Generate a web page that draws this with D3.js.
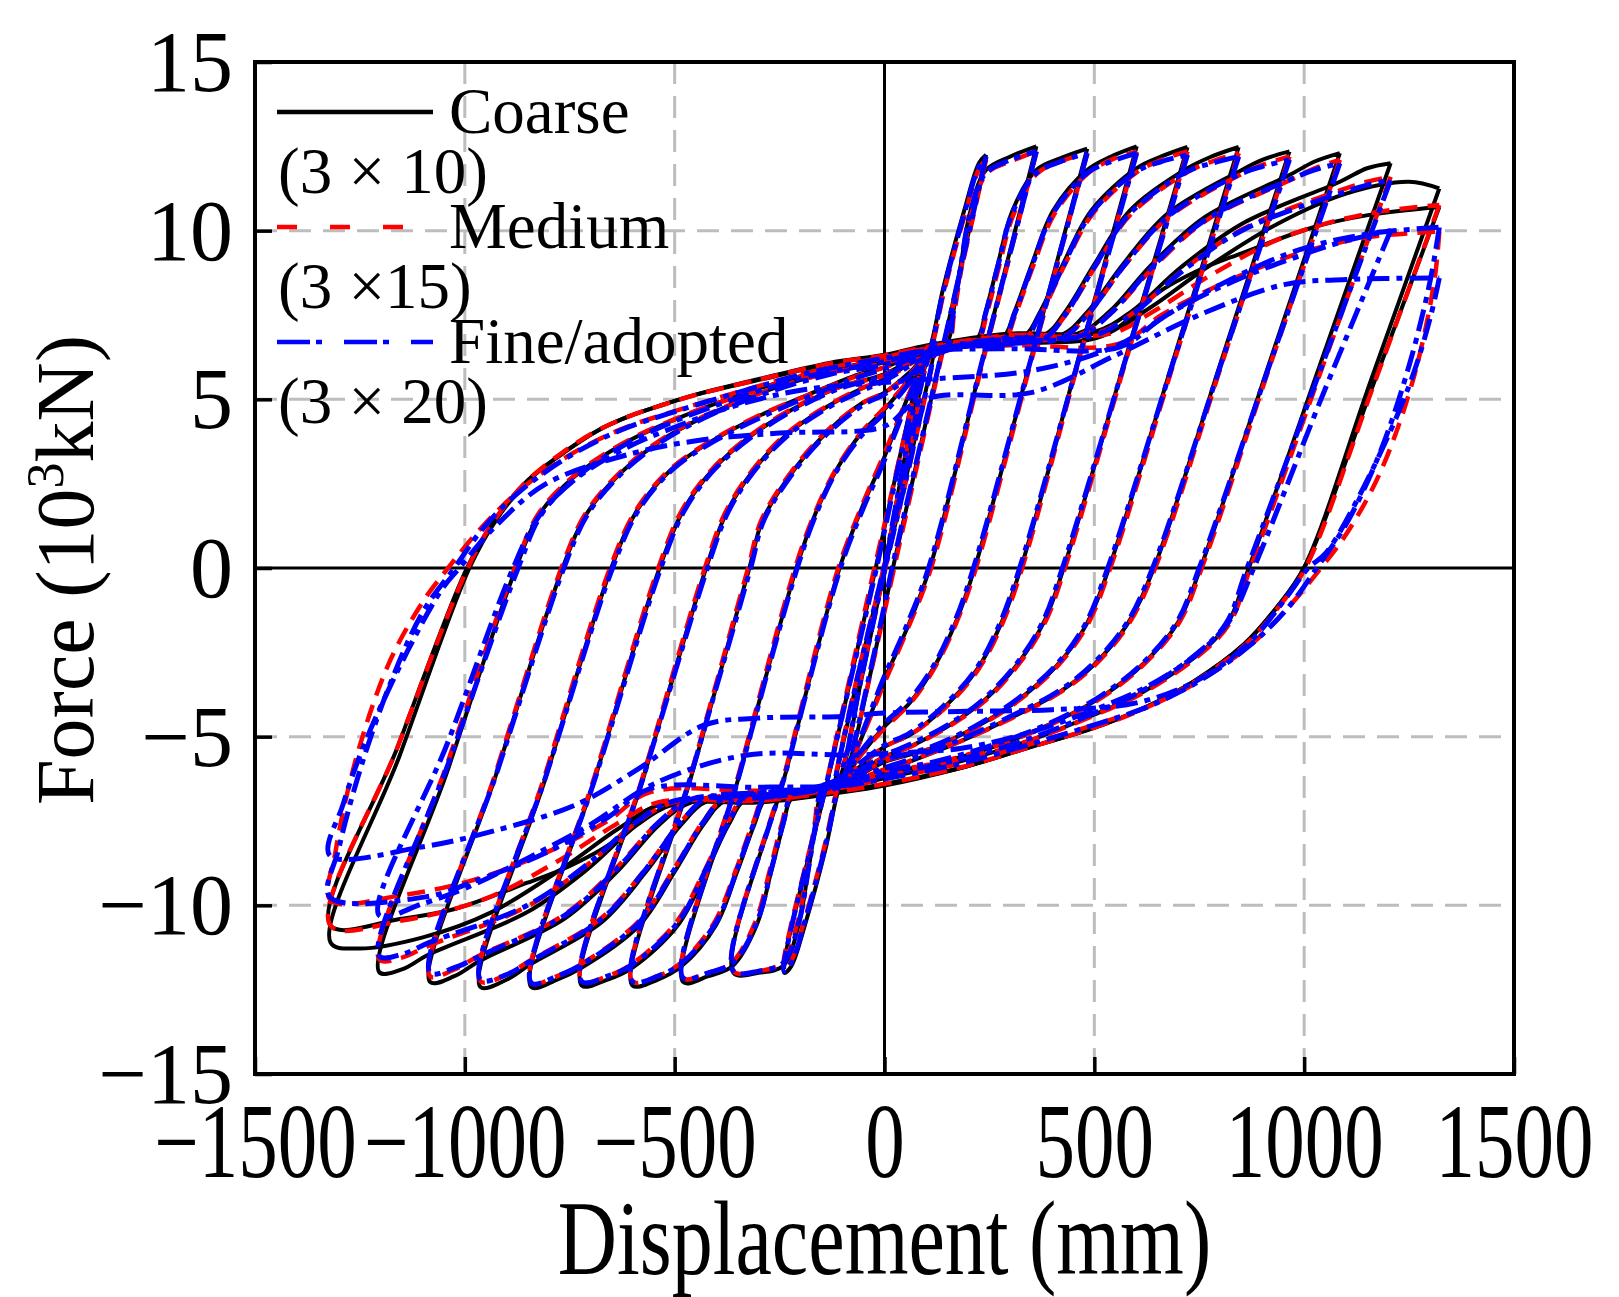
<!DOCTYPE html>
<html>
<head>
<meta charset="utf-8">
<script src="https://cdn.jsdelivr.net/npm/d3@7"></script>
<style>
body{margin:0;background:#fff}
text{font-family:"Liberation Serif","Times New Roman",serif;fill:#000}
</style>
</head>
<body>
<script>
// axis ticks
let xTicks = [-1500,-1000,-500,0,500,1000,1500]
let yTicks = [-15,-10,-5,0,5,10,15]
let xGrid = [-1000,-500,500,1000]
let yGrid = [-10,-5,5,10]

// legend
let seriesNames = ["Coarse","Medium","Fine/adopted"]
let seriesSizes = ["(3 \u00d7 10)","(3 \u00d715)","(3 \u00d7 20)"]
let seriesColors = ["#000000","#ff0000","#0000ff"]

// loops: [displacement mm, force 10^3 kN]
let coarseLoops = [
 [[0,0],[50,3.4],[90,5.9],[120,6.7],[70,3.7],[0,-0.1],[-60,-3.6],[-95,-5.8],[-120,-6.6],[-70,-3.6],[0,0.1],[60,3.5],[95,5.9],[120,6.7]],
 [[242,12.25],[131,6.1],[20,0],[0,-1.2],[-40,-3.5],[-75,-5.4],[-95,-6.2],[-110,-6.6],[-140,-8.3],[-190,-10.6],[-222,-11.8],[-239,-12.0],[-130,-6.0],[-21,0],[0,1.2],[40,3.5],[75,5.4],[95,6.2],[110,6.6],[140,8.3],[190,10.6],[225,12.0],[242,12.25]],
 [[362,12.5],[235,6.25],[108,0],[50,-1.9],[0,-3.3],[-60,-5.2],[-100,-6.3],[-150,-6.7],[-164,-7.6],[-182,-9.0],[-205,-10.6],[-242,-11.8],[-300,-12.0],[-360,-12.0],[-234,-6.0],[-107,0],[-50,1.9],[0,3.3],[60,5.2],[100,6.3],[150,6.7],[164,7.6],[182,9.0],[205,10.6],[242,11.8],[300,12.2],[362,12.5]],
 [[483,12.43],[349,6.2],[215,0],[170,-1.6],[120,-2.9],[60,-4.0],[0,-4.7],[-60,-5.6],[-100,-6.3],[-160,-6.65],[-220,-6.8],[-241,-7.6],[-270,-9.0],[-305,-10.6],[-362,-11.8],[-420,-12.1],[-480,-12.27],[-345,-6.1],[-210,0],[-165,1.6],[-115,2.9],[-55,4.0],[0,4.7],[60,5.6],[100,6.3],[160,6.65],[220,6.8],[241,7.6],[270,9.0],[305,10.6],[362,11.8],[420,12.15],[483,12.43]],
 [[601,12.5],[463,6.25],[325,0],[276,-1.7],[221,-3.0],[141,-4.15],[62,-4.94],[0,-5.3],[-60,-5.9],[-100,-6.3],[-180,-6.65],[-280,-6.8],[-310,-7.6],[-351,-9.0],[-402,-10.6],[-483,-11.8],[-540,-12.2],[-601,-12.37],[-461,-6.2],[-322,0],[-290,1.43],[-210,3.0],[-131,4.1],[-52,4.9],[0,5.2],[60,5.8],[100,6.3],[180,6.65],[280,6.8],[310,7.6],[351,9.0],[402,10.6],[483,11.8],[540,12.2],[601,12.5]],
 [[722,12.48],[575,6.24],[427,0],[380,-1.6],[320,-2.8],[240,-3.9],[150,-4.7],[60,-5.3],[0,-5.6],[-100,-6.35],[-200,-6.7],[-330,-6.85],[-371,-7.6],[-425,-9.0],[-493,-10.6],[-601,-11.85],[-660,-12.2],[-722,-12.37],[-574,-6.2],[-425,0],[-378,1.6],[-318,2.8],[-238,3.9],[-148,4.7],[-58,5.3],[0,5.6],[100,6.35],[200,6.7],[330,6.85],[371,7.6],[425,9.0],[493,10.6],[601,11.85],[660,12.2],[722,12.48]],
 [[844,12.48],[690,6.24],[535,0],[480,-1.7],[410,-2.9],[320,-3.9],[220,-4.7],[110,-5.35],[0,-5.75],[-100,-6.4],[-230,-6.75],[-380,-6.9],[-431,-7.6],[-500,-9.0],[-585,-10.6],[-722,-11.85],[-780,-12.2],[-842,-12.42],[-689,-6.2],[-536,0],[-480,1.7],[-410,2.9],[-320,3.9],[-220,4.7],[-110,5.35],[0,5.75],[100,6.4],[230,6.75],[380,6.9],[431,7.6],[500,9.0],[585,10.6],[722,11.85],[780,12.2],[844,12.48]],
 [[965,12.35],[804,6.2],[642,0],[578,-1.68],[499,-2.87],[419,-3.66],[300,-4.45],[181,-5.14],[62,-5.73],[0,-6.0],[-100,-6.45],[-250,-6.8],[-420,-6.9],[-484,-7.6],[-568,-9.0],[-674,-10.5],[-844,-11.75],[-900,-12.2],[-963,-12.42],[-807,-6.2],[-651,0],[-590,1.7],[-510,2.9],[-420,3.7],[-300,4.5],[-180,5.15],[-60,5.75],[0,5.95],[100,6.45],[250,6.8],[420,6.9],[484,7.6],[568,9.0],[674,10.5],[844,11.75],[900,12.1],[965,12.35]],
 [[1085,12.3],[919,6.15],[753,0],[700,-1.6],[620,-2.8],[520,-3.8],[400,-4.6],[260,-5.3],[120,-5.8],[0,-6.1],[-100,-6.5],[-260,-6.85],[-460,-6.95],[-536,-7.6],[-637,-9.0],[-763,-10.4],[-965,-11.65],[-1025,-12.1],[-1083,-12.27],[-925,-6.1],[-767,0],[-710,1.6],[-630,2.8],[-530,3.8],[-410,4.6],[-270,5.3],[-130,5.8],[0,6.1],[100,6.5],[260,6.85],[460,6.95],[536,7.6],[637,9.0],[763,10.4],[965,11.65],[1025,12.05],[1085,12.3]],
 [[1206,12.0],[1037,6.0],[868,0],[816,-1.68],[737,-2.67],[618,-3.66],[499,-4.35],[340,-5.14],[181,-5.73],[0,-6.23],[-100,-6.55],[-280,-6.9],[-500,-7.0],[-588,-7.6],[-705,-8.9],[-851,-10.2],[-1085,-11.45],[-1150,-11.9],[-1204,-11.98],[-1041,-6.0],[-878,0],[-822,1.6],[-740,2.7],[-620,3.7],[-500,4.4],[-340,5.15],[-180,5.75],[0,6.2],[100,6.55],[280,6.9],[500,7.0],[588,7.6],[705,8.9],[851,10.2],[1085,11.45],[1150,11.85],[1206,12.0]],
 [[1322,11.25],[1160,5.6],[999,0],[933,-1.19],[856,-2.27],[737,-3.36],[618,-4.15],[499,-4.74],[340,-5.34],[181,-5.93],[0,-6.45],[-100,-6.65],[-300,-6.95],[-530,-7.0],[-631,-7.7],[-767,-8.9],[-936,-10.2],[-1100,-10.95],[-1254,-11.28],[-1320,-11.1],[-1155,-5.55],[-989,0],[-925,1.43],[-846,2.62],[-766,3.41],[-687,4.05],[-608,4.5],[-528,4.84],[-449,5.14],[-290,5.63],[-131,6.08],[0,6.32],[100,6.6],[300,6.95],[530,7.0],[631,7.7],[767,8.9],[936,10.2],[1100,11.1],[1250,11.45],[1322,11.25]],
 [[1322,10.7],[1162,5.35],[1000,0],[933,-1.2],[856,-2.27],[737,-3.36],[618,-4.15],[499,-4.74],[340,-5.34],[181,-5.93],[0,-6.4],[-100,-6.6],[-300,-6.85],[-550,-7.07],[-650,-8.15],[-751,-8.84],[-851,-9.33],[-1022,-10.1],[-1152,-10.4],[-1320,-10.6],[-1160,-5.3],[-995,0],[-930,1.4],[-850,2.6],[-766,3.4],[-687,4.05],[-608,4.5],[-528,4.84],[-449,5.14],[-290,5.6],[-131,6.05],[0,6.3],[88,6.48],[300,6.65],[490,6.77],[550,7.07],[650,8.15],[751,8.84],[851,9.33],[1022,10.1],[1152,10.46],[1322,10.7]]
]

let mediumLoops = [
 [[0,0],[50,3.3],[90,5.8],[120,6.6],[70,3.6],[0,-0.1],[-60,-3.5],[-95,-5.7],[-120,-6.5],[-70,-3.5],[0,0.1],[60,3.4],[95,5.8],[120,6.6]],
 [[242,12.1],[132,6.05],[23,0],[0,-1.3],[-40,-3.5],[-75,-5.35],[-95,-6.15],[-112,-6.55],[-142,-8.2],[-192,-10.5],[-224,-11.7],[-240,-11.9],[-131,-5.95],[-24,0],[0,1.3],[40,3.5],[75,5.35],[95,6.15],[112,6.55],[142,8.2],[192,10.5],[226,11.85],[242,12.1]],
 [[362,12.35],[236,6.2],[111,0],[52,-1.9],[0,-3.4],[-60,-5.2],[-100,-6.25],[-152,-6.65],[-166,-7.55],[-184,-8.95],[-207,-10.5],[-244,-11.7],[-300,-11.95],[-360,-11.95],[-235,-5.95],[-110,0],[-52,1.9],[0,3.4],[60,5.2],[100,6.25],[152,6.65],[166,7.55],[184,8.95],[207,10.5],[244,11.7],[300,12.05],[362,12.35]],
 [[483,12.3],[350,6.15],[218,0],[172,-1.6],[122,-2.9],[62,-4.0],[0,-4.75],[-60,-5.6],[-100,-6.25],[-162,-6.6],[-222,-6.75],[-244,-7.55],[-273,-8.95],[-308,-10.5],[-364,-11.7],[-420,-12.0],[-480,-12.15],[-346,-6.05],[-213,0],[-167,1.6],[-117,2.9],[-57,4.0],[0,4.75],[60,5.6],[100,6.25],[162,6.6],[222,6.75],[244,7.55],[273,8.95],[308,10.5],[364,11.7],[420,12.05],[483,12.3]],
 [[601,12.35],[464,6.2],[328,0],[279,-1.7],[224,-3.0],[144,-4.15],[64,-4.92],[0,-5.3],[-60,-5.85],[-100,-6.25],[-182,-6.6],[-283,-6.75],[-313,-7.55],[-354,-8.95],[-405,-10.5],[-485,-11.7],[-540,-12.1],[-601,-12.25],[-462,-6.15],[-325,0],[-293,1.43],[-213,3.0],[-134,4.1],[-54,4.88],[0,5.2],[60,5.75],[100,6.25],[182,6.6],[283,6.75],[313,7.55],[354,8.95],[405,10.5],[485,11.7],[540,12.1],[601,12.35]],
 [[722,12.35],[576,6.18],[430,0],[383,-1.6],[323,-2.8],[243,-3.9],[153,-4.7],[62,-5.3],[0,-5.6],[-100,-6.3],[-202,-6.65],[-333,-6.8],[-374,-7.55],[-428,-8.95],[-496,-10.5],[-603,-11.75],[-660,-12.1],[-722,-12.25],[-575,-6.15],[-428,0],[-381,1.6],[-321,2.8],[-241,3.9],[-151,4.7],[-60,5.3],[0,5.6],[100,6.3],[202,6.65],[333,6.8],[374,7.55],[428,8.95],[496,10.5],[603,11.75],[660,12.1],[722,12.35]],
 [[844,12.3],[691,6.15],[538,0],[483,-1.7],[413,-2.9],[323,-3.9],[223,-4.7],[112,-5.35],[0,-5.72],[-100,-6.35],[-232,-6.7],[-383,-6.85],[-434,-7.55],[-503,-8.95],[-588,-10.5],[-724,-11.75],[-780,-12.1],[-842,-12.3],[-690,-6.15],[-539,0],[-483,1.7],[-413,2.9],[-323,3.9],[-223,4.7],[-112,5.35],[0,5.72],[100,6.35],[232,6.7],[383,6.85],[434,7.55],[503,8.95],[588,10.5],[724,11.75],[780,12.05],[844,12.3]],
 [[965,12.2],[805,6.1],[645,0],[581,-1.68],[502,-2.87],[422,-3.66],[303,-4.45],[184,-5.12],[64,-5.7],[0,-5.97],[-100,-6.4],[-252,-6.75],[-423,-6.85],[-487,-7.55],[-571,-8.95],[-677,-10.4],[-846,-11.65],[-900,-12.05],[-963,-12.25],[-808,-6.1],[-654,0],[-593,1.7],[-513,2.9],[-423,3.7],[-303,4.5],[-183,5.12],[-63,5.7],[0,5.95],[100,6.4],[252,6.75],[423,6.85],[487,7.55],[571,8.95],[677,10.4],[846,11.65],[900,11.95],[965,12.2]],
 [[1085,12.1],[920,6.05],[756,0],[703,-1.6],[623,-2.8],[523,-3.8],[403,-4.6],[263,-5.28],[123,-5.78],[0,-6.07],[-100,-6.45],[-262,-6.8],[-463,-6.9],[-539,-7.55],[-640,-8.9],[-766,-10.3],[-967,-11.5],[-1025,-11.9],[-1083,-12.1],[-926,-6.05],[-770,0],[-713,1.6],[-633,2.8],[-533,3.8],[-413,4.6],[-273,5.28],[-133,5.78],[0,6.07],[100,6.45],[262,6.8],[463,6.9],[539,7.55],[640,8.9],[766,10.3],[967,11.5],[1025,11.85],[1085,12.1]],
 [[1206,11.6],[1039,5.8],[872,0],[820,-1.68],[741,-2.67],[622,-3.66],[503,-4.35],[344,-5.12],[185,-5.7],[0,-6.2],[-100,-6.5],[-282,-6.85],[-503,-6.95],[-591,-7.55],[-708,-8.8],[-854,-10.05],[-1087,-11.2],[-1150,-11.55],[-1204,-11.6],[-1042,-5.8],[-881,0],[-825,1.6],[-743,2.7],[-623,3.7],[-503,4.4],[-343,5.12],[-183,5.72],[0,6.17],[100,6.5],[282,6.85],[503,6.95],[591,7.55],[708,8.8],[854,10.05],[1087,11.2],[1150,11.45],[1206,11.6]],
 [[1322,10.76],[1165,5.4],[1003,0],[937,-1.19],[860,-2.27],[741,-3.36],[622,-4.15],[503,-4.72],[344,-5.32],[185,-5.9],[0,-6.4],[-100,-6.6],[-300,-6.9],[-540,-6.95],[-640,-7.6],[-780,-8.7],[-950,-9.8],[-1150,-10.45],[-1320,-10.6],[-1160,-5.3],[-993,0],[-929,1.43],[-850,2.6],[-770,3.4],[-691,4.03],[-612,4.48],[-532,4.82],[-453,5.12],[-294,5.6],[-135,6.05],[0,6.3],[100,6.55],[300,6.9],[540,6.95],[640,7.6],[780,8.7],[950,9.8],[1150,10.5],[1322,10.76]],
 [[1322,9.97],[1310,8.5],[1260,5.6],[1180,2.8],[1100,1.0],[1040,0],[960,-1.2],[870,-2.3],[750,-3.35],[630,-4.1],[500,-4.65],[340,-5.25],[180,-5.8],[0,-6.25],[-100,-6.5],[-300,-6.6],[-560,-6.65],[-660,-7.5],[-800,-8.4],[-980,-9.25],[-1150,-9.7],[-1320,-9.85],[-1308,-8.4],[-1258,-5.6],[-1180,-2.8],[-1100,-1.0],[-1040,0],[-960,1.2],[-870,2.3],[-750,3.35],[-630,4.1],[-500,4.65],[-340,5.25],[-180,5.8],[0,6.25],[100,6.5],[300,6.6],[560,6.65],[660,7.5],[800,8.4],[980,9.3],[1150,9.8],[1322,9.97]]
]

let fineLoops = [
 [[0,0],[50,3.4],[90,5.85],[120,6.65],[70,3.65],[0,-0.1],[-60,-3.55],[-95,-5.75],[-120,-6.55],[-70,-3.55],[0,0.1],[60,3.45],[95,5.85],[120,6.65]],
 [[242,12.2],[131,6.1],[18,0],[0,-1.1],[-40,-3.4],[-75,-5.3],[-95,-6.1],[-110,-6.5],[-140,-8.2],[-190,-10.5],[-222,-11.7],[-239,-11.95],[-130,-5.95],[-19,0],[0,1.1],[40,3.4],[75,5.3],[95,6.1],[110,6.5],[140,8.2],[190,10.5],[225,11.9],[242,12.2]],
 [[362,12.35],[234,6.2],[105,0],[48,-1.85],[0,-3.2],[-60,-5.1],[-100,-6.2],[-150,-6.6],[-163,-7.5],[-181,-8.9],[-204,-10.5],[-241,-11.7],[-300,-11.95],[-360,-11.95],[-233,-5.95],[-105,0],[-48,1.85],[0,3.2],[60,5.1],[100,6.2],[150,6.6],[163,7.5],[181,8.9],[204,10.5],[241,11.7],[300,12.1],[362,12.35]],
 [[483,12.3],[348,6.15],[212,0],[167,-1.6],[117,-2.9],[57,-3.95],[0,-4.6],[-60,-5.5],[-100,-6.2],[-160,-6.55],[-220,-6.7],[-240,-7.5],[-269,-8.9],[-304,-10.5],[-361,-11.7],[-420,-12.0],[-480,-12.15],[-344,-6.05],[-208,0],[-163,1.6],[-113,2.9],[-53,3.95],[0,4.6],[60,5.5],[100,6.2],[160,6.55],[220,6.7],[240,7.5],[269,8.9],[304,10.5],[361,11.7],[420,12.05],[483,12.3]],
 [[601,12.3],[462,6.15],[322,0],[273,-1.7],[218,-3.0],[138,-4.12],[59,-4.9],[0,-5.25],[-60,-5.8],[-100,-6.2],[-180,-6.55],[-280,-6.7],[-309,-7.5],[-350,-8.9],[-401,-10.5],[-482,-11.7],[-540,-12.1],[-601,-12.25],[-460,-6.1],[-319,0],[-287,1.43],[-207,3.0],[-128,4.08],[-49,4.85],[0,5.15],[60,5.7],[100,6.2],[180,6.55],[280,6.7],[309,7.5],[350,8.9],[401,10.5],[482,11.7],[540,12.05],[601,12.3]],
 [[722,12.25],[573,6.12],[424,0],[377,-1.6],[317,-2.8],[237,-3.88],[147,-4.68],[57,-5.25],[0,-5.55],[-100,-6.25],[-200,-6.6],[-330,-6.75],[-370,-7.5],[-424,-8.9],[-492,-10.5],[-600,-11.75],[-660,-12.1],[-722,-12.25],[-572,-6.1],[-422,0],[-375,1.6],[-315,2.8],[-235,3.88],[-145,4.68],[-55,5.25],[0,5.55],[100,6.25],[200,6.6],[330,6.75],[370,7.5],[424,8.9],[492,10.5],[600,11.75],[660,12.05],[722,12.25]],
 [[844,12.2],[688,6.1],[532,0],[477,-1.7],[407,-2.9],[317,-3.88],[217,-4.68],[107,-5.32],[0,-5.7],[-100,-6.3],[-230,-6.65],[-380,-6.8],[-430,-7.5],[-499,-8.9],[-584,-10.5],[-721,-11.75],[-780,-12.1],[-842,-12.3],[-686,-6.1],[-533,0],[-477,1.7],[-407,2.9],[-317,3.88],[-217,4.68],[-107,5.32],[0,5.7],[100,6.3],[230,6.65],[380,6.8],[430,7.5],[499,8.9],[584,10.5],[721,11.75],[780,12.0],[844,12.2]],
 [[965,12.1],[802,6.05],[639,0],[575,-1.68],[496,-2.85],[416,-3.64],[297,-4.42],[178,-5.1],[59,-5.68],[0,-5.92],[-100,-6.35],[-250,-6.7],[-420,-6.8],[-483,-7.5],[-567,-8.9],[-673,-10.4],[-843,-11.65],[-900,-12.05],[-963,-12.2],[-805,-6.1],[-648,0],[-587,1.7],[-507,2.9],[-417,3.68],[-297,4.45],[-177,5.1],[-57,5.68],[0,5.9],[100,6.35],[250,6.7],[420,6.8],[483,7.5],[567,8.9],[673,10.4],[843,11.65],[900,11.9],[965,12.1]],
 [[1085,12.0],[917,6.0],[750,0],[697,-1.6],[617,-2.8],[517,-3.78],[397,-4.58],[257,-5.25],[117,-5.75],[0,-6.03],[-100,-6.4],[-260,-6.75],[-460,-6.85],[-535,-7.5],[-636,-8.9],[-762,-10.3],[-964,-11.5],[-1025,-11.85],[-1083,-12.0],[-922,-6.0],[-764,0],[-707,1.6],[-627,2.8],[-527,3.78],[-407,4.58],[-267,5.25],[-127,5.75],[0,6.03],[100,6.4],[260,6.75],[460,6.85],[535,7.5],[636,8.9],[762,10.3],[964,11.5],[1025,11.8],[1085,12.0]],
 [[1206,11.5],[1035,5.75],[864,0],[812,-1.68],[733,-2.65],[614,-3.64],[495,-4.33],[336,-5.1],[177,-5.68],[0,-6.15],[-100,-6.45],[-280,-6.8],[-500,-6.9],[-588,-7.5],[-705,-8.75],[-851,-10.0],[-1084,-11.1],[-1150,-11.45],[-1204,-11.5],[-1038,-5.75],[-873,0],[-817,1.6],[-735,2.68],[-615,3.68],[-495,4.38],[-335,5.1],[-175,5.7],[0,6.12],[100,6.45],[280,6.8],[500,6.9],[588,7.5],[705,8.75],[851,10.0],[1084,11.1],[1150,11.35],[1206,11.5]],
 [[1206,10.0],[1040,5.0],[880,0],[820,-1.6],[740,-2.6],[620,-3.55],[500,-4.2],[340,-4.9],[180,-5.35],[0,-5.5],[-78,-5.55],[-330,-5.55],[-550,-6.4],[-700,-7.6],[-850,-8.6],[-1000,-9.5],[-1100,-9.95],[-1204,-10.3],[-1040,-5.15],[-885,0],[-825,1.5],[-745,2.55],[-625,3.5],[-505,4.15],[-345,4.85],[-185,5.3],[0,5.5],[108,5.6],[350,5.85],[550,6.57],[700,7.7],[850,8.6],[1000,9.3],[1100,9.7],[1206,10.0]],
 [[1322,10.1],[1300,8.5],[1250,6.0],[1180,3.4],[1100,1.3],[1030,0],[960,-1.2],[870,-2.3],[750,-3.35],[630,-4.1],[500,-4.65],[340,-5.25],[180,-5.8],[0,-6.25],[-100,-6.45],[-300,-6.5],[-560,-6.55],[-660,-7.4],[-800,-8.4],[-980,-9.3],[-1093,-9.75],[-1322,-9.75],[-1300,-8.3],[-1250,-6.0],[-1180,-3.5],[-1100,-1.3],[-1025,0],[-955,1.2],[-866,2.3],[-746,3.35],[-626,4.1],[-496,4.65],[-336,5.25],[-176,5.8],[0,6.22],[100,6.45],[300,6.5],[560,6.55],[660,7.4],[800,8.4],[980,9.4],[1150,9.9],[1322,10.1]],
 [[1322,8.6],[1300,7.4],[1250,5.4],[1150,2.6],[1052,0.45],[1010,0],[950,-1.0],[870,-2.2],[750,-3.3],[600,-4.0],[400,-4.2],[200,-4.25],[0,-4.3],[-100,-4.4],[-300,-4.45],[-430,-4.66],[-580,-5.9],[-732,-7.0],[-933,-7.8],[-1103,-8.27],[-1322,-8.52],[-1290,-7.0],[-1234,-5.06],[-1134,-2.4],[-1053,-0.6],[-1013,0],[-930,1.2],[-806,2.5],[-600,3.4],[-433,3.8],[-250,4.0],[0,4.2],[60,4.8],[128,5.1],[349,5.2],[550,6.3],[750,7.5],[952,8.4],[1100,8.55],[1322,8.6]]
]

let allLoops = [coarseLoops, mediumLoops, fineLoops]
let dashes = [null, "18,10", "22,7,6,7"]
let widths = [4, 4.5, 5]
let legendDashes = [null, "20,33", "33,6,6,22"]

let w = 1619
let h = 1297
let plotL = 255, plotR = 1514, plotT = 62, plotB = 1074

let xScale = d3.scaleLinear().domain([-1500,1500]).range([plotL,plotR])
let yScale = d3.scaleLinear().domain([-15,15]).range([plotB,plotT])

let svg = d3.select("body")
    .append("svg")
    .attr("width", w)
    .attr("height", h)

// grid
svg.selectAll(".gx")
    .data(xGrid)
    .enter()
    .append("line")
    .attr("x1", d=>xScale(d)).attr("x2", d=>xScale(d))
    .attr("y1", plotT).attr("y2", plotB)
    .attr("stroke", "#bdbdbd").attr("stroke-width", 3).attr("stroke-dasharray", "22,12")
svg.selectAll(".gy")
    .data(yGrid)
    .enter()
    .append("line")
    .attr("y1", d=>yScale(d)).attr("y2", d=>yScale(d))
    .attr("x1", plotL).attr("x2", plotR)
    .attr("stroke", "#bdbdbd").attr("stroke-width", 3).attr("stroke-dasharray", "22,12")

// zero lines
svg.append("line")
    .attr("x1", xScale(0)).attr("x2", xScale(0)).attr("y1", plotT).attr("y2", plotB)
    .attr("stroke", "#000").attr("stroke-width", 3)
svg.append("line")
    .attr("y1", yScale(0)).attr("y2", yScale(0)).attr("x1", plotL).attr("x2", plotR)
    .attr("stroke", "#000").attr("stroke-width", 3)

// curves
let line = d3.line()
    .x(d=>xScale(d[0]))
    .y(d=>yScale(d[1]))
    .curve(d3.curveCatmullRom.alpha(0.5))

allLoops.forEach((loops, i)=>{
    svg.append("g")
        .selectAll("path")
        .data(loops)
        .enter()
        .append("path")
        .attr("d", line)
        .attr("fill", "none")
        .attr("stroke", seriesColors[i])
        .attr("stroke-width", widths[i])
        .attr("stroke-dasharray", dashes[i])
        .attr("stroke-linejoin", "round")
})

// axes, ticks inward
let fmt = d3.format("d")
let xAxis = d3.axisBottom(xScale).tickValues(xTicks).tickFormat(fmt).tickSizeInner(-17).tickSizeOuter(0).tickPadding(0)
let yAxis = d3.axisLeft(yScale).tickValues(yTicks).tickFormat(fmt).tickSizeInner(-17).tickSizeOuter(0).tickPadding(22)

let gx = svg.append("g").attr("transform", `translate(0,${plotB})`).call(xAxis)
gx.select(".domain").remove()
gx.selectAll("line").attr("stroke", "#000").attr("stroke-width", 3.5)
gx.selectAll("text")
    .attr("y", null).attr("dy", null)
    .attr("transform", "translate(0,103) scale(1,1.33)")
    .attr("font-size", 79)
    .attr("font-family", "Liberation Serif, Times New Roman, serif")

let gy = svg.append("g").attr("transform", `translate(${plotL},0)`).call(yAxis)
gy.select(".domain").remove()
gy.selectAll("line").attr("stroke", "#000").attr("stroke-width", 3.5)
gy.selectAll("text")
    .attr("dy", "0.33em")
    .attr("font-size", 86)
    .attr("font-family", "Liberation Serif, Times New Roman, serif")

// frame
svg.append("rect")
    .attr("x", plotL).attr("y", plotT)
    .attr("width", plotR-plotL).attr("height", plotB-plotT)
    .attr("fill", "none").attr("stroke", "#000").attr("stroke-width", 4)

// axis titles
svg.append("text")
    .attr("transform", `translate(${(plotL+plotR)/2},1274) scale(1,1.3)`)
    .attr("text-anchor", "middle")
    .attr("font-size", 82)
    .text("Displacement (mm)")

let yt = svg.append("text")
    .attr("transform", `translate(93,570) rotate(-90)`)
    .attr("text-anchor", "middle")
    .attr("font-size", 82)
yt.append("tspan").text("Force (10")
yt.append("tspan").attr("dy", -30).attr("font-size", 52).text("3")
yt.append("tspan").attr("dy", 30).text("kN)")

// legend
let legend = svg.append("g")
let rows = [112, 227, 342]
seriesNames.forEach((name, i)=>{
    legend.append("line")
        .attr("x1", 277).attr("x2", i==1 ? 412 : 433)
        .attr("y1", rows[i]).attr("y2", rows[i])
        .attr("stroke", seriesColors[i])
        .attr("stroke-width", 4.5)
        .attr("stroke-dasharray", legendDashes[i])
    legend.append("text")
        .attr("x", 449).attr("y", rows[i]+21)
        .attr("font-size", 65)
        .text(name)
    legend.append("text")
        .attr("x", 278).attr("y", rows[i]+81)
        .attr("font-size", 65)
        .text(seriesSizes[i])
})
</script>
</body>
</html>
